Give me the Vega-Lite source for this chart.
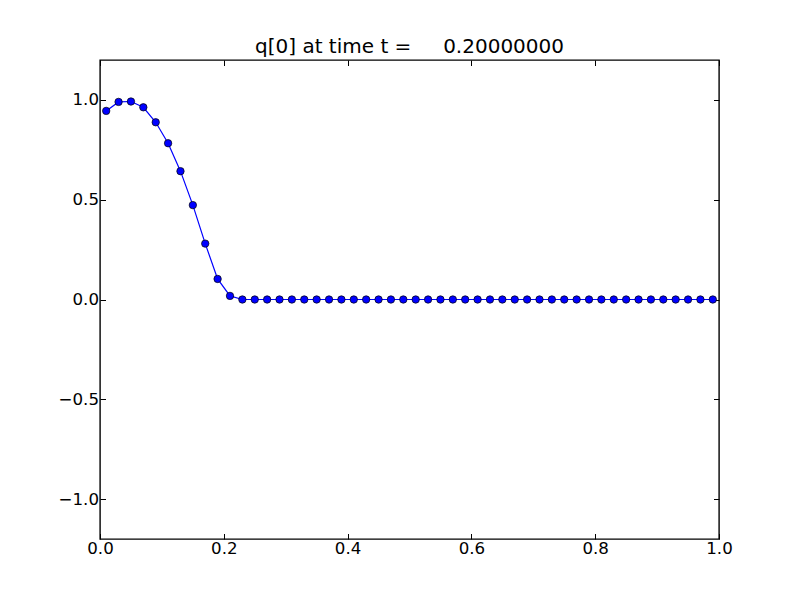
{
  "$schema": "https://vega.github.io/schema/vega-lite/v6.json",
  "autosize": "none",
  "width": 619,
  "height": 479,
  "padding": {"left": 100, "top": 60, "right": 81, "bottom": 61},
  "background": "white",
  "title": {"text": "q[0] at time t =\u00a0\u00a0\u00a0\u00a0\u00a00.20000000", "font": "DejaVu Sans", "fontSize": 20, "fontWeight": "normal", "color": "black", "baseline": "bottom", "offset": 1, "dy": 18},
  "config": {
    "view": {"stroke": "black", "strokeWidth": 1.4},
    "axis": {"grid": false, "domain": false, "labelFont": "DejaVu Sans", "labelFontSize": 16.67, "labelColor": "black", "tickColor": "black", "tickWidth": 1, "tickSize": -5.5, "title": null, "labelPadding": 7, "labelFlush": false, "labelOverlap": false}
  },
  "data": {"values": [
    {"x": 0.01, "q": 0.945}, {"x": 0.03, "q": 0.99}, {"x": 0.05, "q": 0.992}, {"x": 0.07, "q": 0.963},
    {"x": 0.09, "q": 0.888}, {"x": 0.11, "q": 0.783}, {"x": 0.13, "q": 0.643}, {"x": 0.15, "q": 0.473},
    {"x": 0.17, "q": 0.28}, {"x": 0.19, "q": 0.103}, {"x": 0.21, "q": 0.018}, {"x": 0.23, "q": 0.0},
    {"x": 0.25, "q": 0}, {"x": 0.27, "q": 0}, {"x": 0.29, "q": 0}, {"x": 0.31, "q": 0}, {"x": 0.33, "q": 0},
    {"x": 0.35, "q": 0}, {"x": 0.37, "q": 0}, {"x": 0.39, "q": 0}, {"x": 0.41, "q": 0}, {"x": 0.43, "q": 0},
    {"x": 0.45, "q": 0}, {"x": 0.47, "q": 0}, {"x": 0.49, "q": 0}, {"x": 0.51, "q": 0}, {"x": 0.53, "q": 0},
    {"x": 0.55, "q": 0}, {"x": 0.57, "q": 0}, {"x": 0.59, "q": 0}, {"x": 0.61, "q": 0}, {"x": 0.63, "q": 0},
    {"x": 0.65, "q": 0}, {"x": 0.67, "q": 0}, {"x": 0.69, "q": 0}, {"x": 0.71, "q": 0}, {"x": 0.73, "q": 0},
    {"x": 0.75, "q": 0}, {"x": 0.77, "q": 0}, {"x": 0.79, "q": 0}, {"x": 0.81, "q": 0}, {"x": 0.83, "q": 0},
    {"x": 0.85, "q": 0}, {"x": 0.87, "q": 0}, {"x": 0.89, "q": 0}, {"x": 0.91, "q": 0}, {"x": 0.93, "q": 0},
    {"x": 0.95, "q": 0}, {"x": 0.97, "q": 0}, {"x": 0.99, "q": 0}
  ]},
  "layer": [
    {
      "mark": {"type": "line", "color": "blue", "strokeWidth": 1.2, "clip": true},
      "encoding": {
        "x": {"field": "x", "type": "quantitative", "scale": {"domain": [0, 1], "nice": false, "zero": false}, "axis": {"orient": "bottom", "values": [0, 0.2, 0.4, 0.6, 0.8, 1.0], "format": ".1f"}},
        "y": {"field": "q", "type": "quantitative", "scale": {"domain": [-1.2, 1.2], "nice": false, "zero": false}, "axis": {"orient": "left", "values": [-1, -0.5, 0, 0.5, 1], "format": ".1f"}}
      }
    },
    {
      "mark": {"type": "point", "shape": "circle", "filled": true, "fill": "blue", "stroke": "black", "strokeWidth": 0.7, "size": 55, "opacity": 1},
      "encoding": {
        "x": {"field": "x", "type": "quantitative", "axis": {"orient": "top", "values": [0, 0.2, 0.4, 0.6, 0.8, 1.0], "labels": false}},
        "y": {"field": "q", "type": "quantitative", "axis": {"orient": "right", "values": [-1, -0.5, 0, 0.5, 1], "labels": false}}
      }
    }
  ],
  "resolve": {"axis": {"x": "independent", "y": "independent"}}
}
